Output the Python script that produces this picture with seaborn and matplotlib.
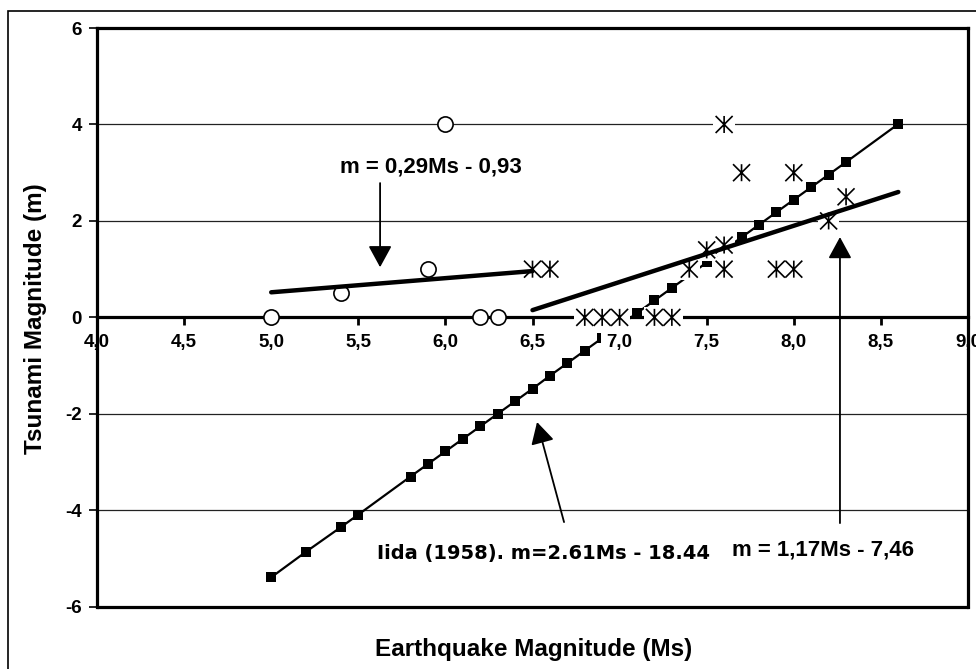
import numpy as np
import pandas as pd
import seaborn as sns
import matplotlib.pyplot as plt
from matplotlib.path import Path
from matplotlib.patches import Rectangle

# dane
circle_ms = [5.0, 5.4, 5.9, 6.0, 6.2, 6.3]
circle_m = [0.0, 0.5, 1.0, 4.0, 0.0, 0.0]

star_ms = [6.5, 6.6, 6.8, 6.9, 7.0, 7.2, 7.3, 7.4, 7.5, 7.6, 7.6, 7.6, 7.7, 7.9, 8.0, 8.0, 8.2, 8.3]
star_m = [1.0, 1.0, 0.0, 0.0, 0.0, 0.0, 0.0, 1.0, 1.4, 1.5, 1.0, 4.0, 3.0, 1.0, 1.0, 3.0, 2.0, 2.5]

iida_ms = [5.0, 5.2, 5.4, 5.5, 5.8, 5.9, 6.0, 6.1, 6.2, 6.3, 6.4, 6.5, 6.6, 6.7, 6.8, 6.9,
           7.0, 7.1, 7.2, 7.3, 7.4, 7.5, 7.6, 7.7, 7.8, 7.9, 8.0, 8.1, 8.2, 8.3, 8.6]
iida_m = [-5.39, -4.86, -4.35, -4.09, -3.30, -3.04, -2.78, -2.52, -2.26, -2.00, -1.74, -1.48, -1.21,
          -0.95, -0.69, -0.43, -0.17, 0.09, 0.35, 0.61, 0.87, 1.14, 1.40, 1.66, 1.92, 2.18, 2.44,
          2.70, 2.96, 3.22, 4.01]

fit1_ms = [5.0, 6.5]
fit1_m = [0.52, 0.96]
fit2_ms = [6.5, 8.6]
fit2_m = [0.15, 2.60]

x_ticks = [4.0, 4.5, 5.0, 5.5, 6.0, 6.5, 7.0, 7.5, 8.0, 8.5, 9.0]
x_tick_labels = ['4,0', '4,5', '5,0', '5,5', '6,0', '6,5', '7,0', '7,5', '8,0', '8,5', '9,0']
y_ticks = [-6, -4, -2, 0, 2, 4, 6]
y_tick_labels = ['-6', '-4', '-2', '0', '2', '4', '6']

sns.set_style('white')
plt.rcParams['font.family'] = ['Liberation Sans', 'DejaVu Sans']
plt.rcParams['font.weight'] = 'bold'
plt.rcParams['text.color'] = 'black'
plt.rcParams['axes.labelcolor'] = 'black'
plt.rcParams['xtick.color'] = 'black'
plt.rcParams['ytick.color'] = 'black'

fig = plt.figure(figsize=(9.76, 6.69), dpi=100)
ax = fig.add_axes([0.0994, 0.0931, 0.8924, 0.8650])

# gwiazdka jak w Excelu: pionowa kreska + x
star = Path([(0, -1), (0, 1), (-1, -1), (1, 1), (-1, 1), (1, -1)],
            [Path.MOVETO, Path.LINETO, Path.MOVETO, Path.LINETO, Path.MOVETO, Path.LINETO])

sns.lineplot(x=iida_ms, y=iida_m, ax=ax, color='black', lw=1.6, marker='s', markersize=6.5,
             markeredgecolor='black', markeredgewidth=0, zorder=2.0)
sns.scatterplot(x=star_ms, y=star_m, ax=ax, marker='s', s=240, color='white',
                edgecolor='none', linewidth=0, zorder=3)
sns.scatterplot(x=star_ms, y=star_m, ax=ax, marker=star, s=150, facecolor='none',
                edgecolor='black', linewidth=1.2, zorder=3.2)
sns.scatterplot(x=circle_ms, y=circle_m, ax=ax, marker='o', s=120, facecolor='white',
                edgecolor='black', linewidth=1.2, zorder=3.2)
sns.lineplot(x=fit1_ms, y=fit1_m, ax=ax, color='black', lw=3.2, zorder=3.5)
sns.lineplot(x=fit2_ms, y=fit2_m, ax=ax, color='black', lw=3.2, zorder=3.5)

ax.set_xlim(4, 9)
ax.set_ylim(-6, 6)
ax.set_xticks(x_ticks)
ax.set_xticklabels(x_tick_labels)
ax.set_yticks(y_ticks)
ax.set_yticklabels(y_tick_labels)
ax.set_xlabel('')
ax.set_ylabel('')

ax.yaxis.grid(True, color='#222222', lw=0.9)
ax.xaxis.grid(False)

for side in ['left', 'right', 'top']:
    ax.spines[side].set_linewidth(2.3)
    ax.spines[side].set_color('black')
    ax.spines[side].set_zorder(4)
ax.spines['bottom'].set_position(('data', 0))
ax.spines['bottom'].set_linewidth(2.3)
ax.spines['bottom'].set_color('black')
ax.spines['bottom'].set_zorder(1.9)
ax.axhline(-6, color='black', lw=2.3, clip_on=False, zorder=4)

ax.tick_params(axis='x', direction='out', length=6, width=2, pad=6, labelsize=13.5,
               color='black', labelcolor='black', bottom=True)
ax.tick_params(axis='y', direction='out', length=6, width=1.2, pad=5, labelsize=13.5,
               color='black', labelcolor='black', left=True)
ax.xaxis.set_zorder(2.2)
for lab in ax.get_xticklabels():
    lab.set_fontweight('bold')
    lab.set_bbox(dict(facecolor='white', edgecolor='none', pad=4))
for lab in ax.get_yticklabels():
    lab.set_fontweight('bold')

arrow = dict(arrowstyle='-|>,head_length=0.55,head_width=0.3', mutation_scale=24,
             color='black', lw=1.3, shrinkA=0, shrinkB=0)
ax.annotate('', xy=(5.625, 1.04), xytext=(5.625, 2.785), arrowprops=arrow, zorder=5)
ax.annotate('', xy=(8.265, 1.665), xytext=(8.265, -4.266), arrowprops=arrow, zorder=5)
ax.annotate('', xy=(6.526, -2.171), xytext=(6.681, -4.245), arrowprops=arrow, zorder=5)

ax.text(5.395, 3.12, 'm = 0,29Ms - 0,93', fontsize=16, fontweight='bold', ha='left', va='center')
ax.text(7.645, -4.83, 'm = 1,17Ms - 7,46', fontsize=16, fontweight='bold', ha='left', va='center')
ax.text(5.607, -4.89, 'Iida (1958). m=2.61Ms - 18.44', fontsize=14, fontweight='bold',
        family='DejaVu Sans', ha='left', va='center')

fig.text(0.0368, 0.524, 'Tsunami Magnitude (m)', rotation=90, fontsize=17.5, fontweight='bold',
         ha='center', va='center')
fig.text(0.5466, 0.0194, 'Earthquake Magnitude (Ms)', fontsize=17.5, fontweight='bold',
         ha='center', va='baseline')

# ramka zewnetrzna (przycieta z prawej i z dolu)
fig.add_artist(Rectangle((7.5 / 976, -0.1), 1.2, 1.1 - 11 / 669, transform=fig.transFigure,
                         fill=False, edgecolor='black', lw=1.2, clip_on=False))

fig.savefig('out.png', dpi=100)
